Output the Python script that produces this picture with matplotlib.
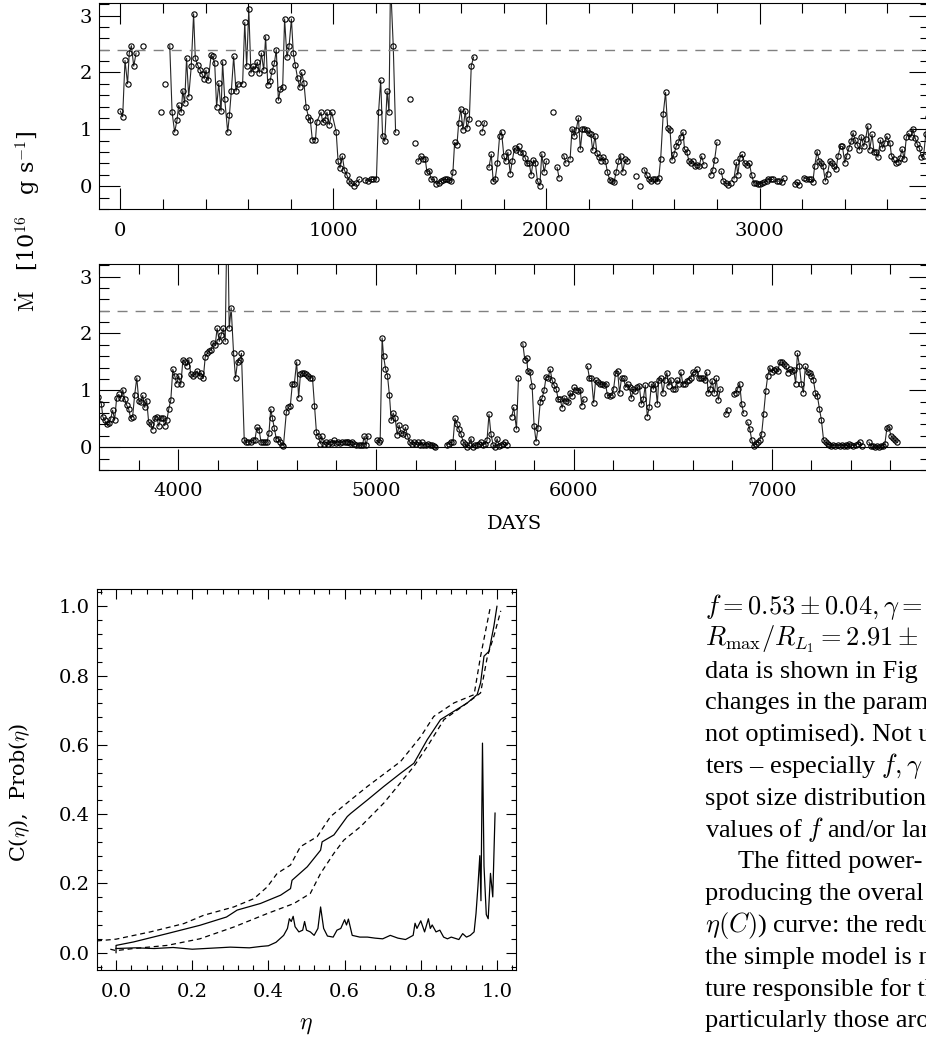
import numpy as np
import matplotlib.pyplot as plt
from matplotlib.ticker import MultipleLocator

plt.rcParams['font.family'] = ['DejaVu Serif']
plt.rcParams['mathtext.fontset'] = 'cm'

N = np.nan  # hueco en la cobertura (corta la linea)

# Curva de luz: dias y tasa de transferencia (1e16 g/s)
dias = [
    0, 11, 22, 34, 42, 52, 63, 74, N,
    105, N, 191, N, 211, N,
    232, 243, 255, 266, 274, 286, 293, 302, 311, 321,
    333, 344, 352, 363, 374, 383, 394, 402, 413, 426,
    433, 443, 452, 462, 473, 480, 490, 504, 512, 521,
    532, 543, 552, 574, 584, 593, 603, 613, 623, 632,
    643, 653, 662, 673, 682, 692, 703, 712, 723, 732,
    742, 751, 762, 771, 782, 792, 803, 812, 821, 832,
    842, 851, 862, 872, 883, 892, 901, 916, 922, 942,
    950, 959, 970, 981, 992, 1013, 1022, 1031, 1042, 1052,
    1063, 1075, 1085, 1096, 1106, 1122, N,
    1150, 1163, 1175, 1185, 1202, 1212, 1222, 1231, 1241, 1252,
    1261, 1268, 1281, 1292, N,
    1361, N, 1381, N,
    1397, 1409, 1420, 1431, 1439, 1450, 1459, 1472, 1483, 1494,
    1503, 1514, 1525, 1534, 1544, 1553, 1561, 1569, 1580, 1588,
    1598, 1608, 1619, 1627, 1638, 1647, 1658, N,
    1678, N, 1698, 1709, N,
    1730, 1741, 1750, 1759, 1770, 1780, 1789, 1800, 1809, 1819,
    1830, 1839, 1850, 1859, 1869, 1878, 1889, 1900, 1909, 1919,
    1928, 1939, 1948, 1958, 1969, 1978, 1989, 2000, N,
    2030, N, 2050, 2059, N, 2081, 2091, N,
    2111, 2120, 2130, 2139, 2150, 2159, 2169, 2178, 2189, 2198,
    2208, 2217, 2228, 2237, 2247, 2256, 2267, 2277, 2286, 2297,
    2306, 2317, 2327, 2338, 2348, 2358, 2369, 2380, N,
    2419, N, 2439, N,
    2459, 2470, 2480, 2489, 2500, 2509, 2517, 2527, 2536, 2548,
    2559, 2569, 2580, 2589, 2598, 2609, 2619, 2630, 2641, 2648,
    2658, 2669, 2678, 2688, 2698, 2708, 2717, 2728, 2739, N,
    2770, 2780, 2789, 2800, N,
    2820, 2830, 2841, 2853, 2864, N,
    2880, 2891, 2898, 2908, 2919, 2930, 2942, 2952, 2963, 2973,
    2983, 2992, 3002, 3013, 3023, 3033, 3041, 3052, 3061, N,
    3080, 3090, N, 3104, 3113, N,
    3166, 3177, 3186, N,
    3208, 3220, 3230, 3241, 3250, 3259, 3270, 3280, 3289, 3298,
    3309, 3319, 3330, 3339, 3348, 3359, 3369, 3380, 3389, 3400,
    3409, 3419, 3430, 3439, 3448, 3459, 3469, 3478, 3489, 3498,
    3508, 3517, 3528, 3537, 3547, 3556, 3567, 3577, 3587, 3597,
    3612, 3619, 3629, 3639, 3649, 3659, 3669, 3679, 3689, 3700,
    3710, 3720, 3730, 3740, 3750, 3760, 3770, 3780, 3791, 3801,
    3811, 3821, 3831, 3841, 3851, 3862, 3872, 3882, 3892, 3902,
    3912, 3922, 3932, 3943, 3953, 3963, 3973, 3983, 3993, 4003,
    4014, 4024, 4034, 4044, 4054, 4064, 4074, 4084, 4096, 4108,
    4116, 4127, 4137, 4147, 4157, 4167, 4177, 4187, 4197, 4208,
    4218, 4228, 4238, 4245, 4252, 4258, 4268, 4280, 4290, 4300,
    4312, 4320, 4334, 4344, 4354, 4366, 4376, 4388, 4398, 4409,
    4419, 4429, 4439, 4449, 4459, 4468, 4476, 4486, 4496, 4506,
    4517, 4527, 4532, 4547, 4557, 4567, 4577, 4587, 4599, 4609,
    4618, 4628, 4638, 4648, 4658, 4668, 4679, 4689, 4699, 4709,
    4719, 4726, 4738, 4748, 4758, 4768, 4778, 4788, 4800, 4810,
    4820, 4830, 4841, 4851, 4861, 4871, 4881, 4891, 4901, 4912,
    4922, 4932, 4940, 4950, 4960, N,
    5003, 5013, 5021, 5031, 5038, 5048, 5058, 5068, 5077, 5087,
    5097, 5107, 5117, 5127, 5137, 5149, 5159, 5170, 5180, 5190,
    5200, 5210, 5220, 5230, 5240, 5251, 5261, 5271, 5281, 5291,
    5300, N,
    5357, 5369, 5379, 5389, 5399, 5409, 5419, 5430, 5440, 5450,
    5460, 5470, 5480, 5490, 5500, 5511, 5521, 5531, 5541, 5551,
    5561, 5571, 5581, 5592, 5602, 5612, 5622, 5632, 5642, 5652,
    5662, N,
    5686, 5696, 5710, 5720, N,
    5742, 5752, 5762, 5767, 5777, 5789, 5799, 5809, 5819, 5830,
    5840, 5850, 5860, 5870, 5880, 5890, 5900, 5911, 5921, 5931,
    5941, 5951, 5961, 5971, 5981, 5992, 6002, 6012, 6022, 6032,
    6040, 6051, N,
    6069, 6079, 6089, 6100, 6110, 6120, 6130, 6140, 6150, 6160,
    6170, 6181, 6191, 6201, 6211, 6221, 6231, 6241, 6251, 6262,
    6272, 6282, 6290, 6300, 6310, 6320, 6331, 6341, 6351, 6361,
    6371, 6381, 6392, 6402, 6412, 6422, 6429, 6440, 6450, 6460,
    6470, 6480, 6490, 6501, 6511, 6521, 6531, 6541, 6551, 6561,
    6571, 6581, 6591, 6602, 6612, 6622, 6632, 6642, 6652, 6662,
    6671, 6679, 6689, 6699, 6710, 6720, 6730, 6740, N,
    6767, 6777, N,
    6808, 6818, 6828, 6838, 6848, 6858, N,
    6878, 6889, 6899, 6909, 6919, 6929, 6939, 6949, 6959, 6970,
    6980, 6990, 7000, 7010, 7020, 7030, 7041, 7051, 7061, 7071,
    7081, 7091, 7101, 7111, 7121, 7130, 7140, 7150, 7160, 7170,
    7181, 7191, 7201, 7211, 7221, 7231, 7241, 7251, 7262, 7272,
    7282, 7292, 7302, 7312, 7322, 7333, 7343, 7353, 7363, 7373,
    7383, 7393, 7403, 7413, 7424, 7434, 7444, 7454, N,
    7491, 7501, 7511, 7522, 7532, 7542, 7552, 7562, 7572, 7582,
    7592, 7603, 7613, 7623, 7633,
]
mdot = [
    1.32, 1.22, 2.21, 1.80, 2.34, 2.47, 2.11, 2.34, N,
    2.46, N, 1.30, N, 1.80, N,
    2.47, 1.30, 0.95, 1.16, 1.42, 1.30, 1.68, 1.46, 2.25, 1.57,
    2.11, 3.03, 2.25, 2.13, 2.05, 1.98, 1.89, 2.04, 1.86, 2.30,
    2.28, 2.16, 1.39, 1.81, 1.32, 2.19, 1.53, 0.95, 1.25, 1.67,
    2.28, 1.67, 1.80, 1.80, 2.88, 2.11, 3.11, 1.99, 2.11, 2.06,
    2.18, 1.99, 2.34, 2.04, 2.63, 1.78, 1.85, 2.02, 2.16, 2.40,
    1.51, 1.70, 1.74, 2.94, 2.27, 2.46, 2.94, 2.34, 2.13, 1.90,
    1.74, 2.00, 1.81, 1.39, 1.22, 1.16, 0.82, 0.82, 1.13, 1.30,
    1.13, 1.16, 1.30, 1.08, 1.30, 0.96, 0.44, 0.32, 0.53, 0.28,
    0.20, 0.09, 0.06, 0.01, 0.06, 0.12, N,
    0.11, 0.09, 0.12, 0.12, 0.13, 1.30, 1.86, 0.88, 0.79, 1.67,
    1.30, 3.60, 2.46, 0.95, N,
    1.53, N, 0.76, N,
    0.44, 0.53, 0.48, 0.48, 0.25, 0.26, 0.12, 0.12, 0.04, 0.06,
    0.09, 0.11, 0.12, 0.12, 0.11, 0.09, 0.25, 0.77, 0.73, 1.11,
    1.36, 0.99, 1.32, 1.02, 1.18, 2.11, 2.27, N,
    1.12, N, 0.96, 1.12, N,
    0.33, 0.56, 0.09, 0.12, 0.41, 0.88, 0.96, 0.53, 0.44, 0.60,
    0.22, 0.44, 0.67, 0.63, 0.70, 0.61, 0.58, 0.50, 0.40, 0.41,
    0.20, 0.46, 0.40, 0.09, 0.01, 0.57, 0.25, 0.44, N,
    1.30, N, 0.33, 0.15, N, 0.54, 0.41, N,
    0.48, 1.01, 0.88, 0.98, 1.20, 0.65, 1.01, 1.01, 0.98, 0.94,
    0.91, 0.63, 0.88, 0.58, 0.51, 0.44, 0.51, 0.44, 0.25, 0.11,
    0.09, 0.07, 0.25, 0.44, 0.54, 0.25, 0.48, 0.44, N,
    0.18, N, 0.01, N,
    0.29, 0.20, 0.12, 0.09, 0.12, 0.13, 0.09, 0.15, 0.48, 1.27,
    1.65, 1.02, 0.99, 0.46, 0.56, 0.70, 0.77, 0.87, 0.95, 0.65,
    0.61, 0.44, 0.40, 0.44, 0.36, 0.38, 0.36, 0.53, 0.38, N,
    0.20, 0.28, 0.46, 0.77, N,
    0.26, 0.09, 0.06, 0.03, 0.06, N,
    0.13, 0.42, 0.20, 0.50, 0.56, 0.40, 0.38, 0.40, 0.20, 0.06,
    0.06, 0.04, 0.04, 0.06, 0.07, 0.09, 0.13, 0.12, 0.12, N,
    0.09, 0.09, N, 0.07, 0.14, N,
    0.04, 0.07, 0.03, N,
    0.15, 0.13, 0.12, 0.12, 0.07, 0.36, 0.61, 0.44, 0.40, 0.35,
    0.09, 0.22, 0.44, 0.40, 0.35, 0.30, 0.54, 0.70, 0.70, 0.41,
    0.53, 0.67, 0.79, 0.94, 0.82, 0.73, 0.64, 0.87, 0.70, 0.83,
    1.06, 0.64, 0.91, 0.61, 0.60, 0.51, 0.81, 0.67, 0.76, 0.88,
    0.76, 0.54, 0.47, 0.41, 0.43, 0.50, 0.65, 0.48, 0.86, 0.93,
    0.86, 1.01, 0.85, 0.74, 0.67, 0.51, 0.54, 0.91, 1.22, 0.82,
    0.79, 0.91, 0.70, 0.82, 0.44, 0.41, 0.31, 0.51, 0.54, 0.37,
    0.51, 0.52, 0.38, 0.48, 0.68, 0.83, 1.37, 1.25, 1.12, 1.25,
    1.11, 1.54, 1.50, 1.43, 1.54, 1.28, 1.25, 1.28, 1.34, 1.25,
    1.31, 1.21, 1.59, 1.65, 1.69, 1.71, 1.84, 1.79, 2.09, 1.86,
    1.98, 2.09, 1.86, 3.60, 3.70, 2.09, 2.45, 1.66, 1.22, 1.50,
    1.54, 1.65, 0.13, 0.09, 0.09, 0.10, 0.12, 0.13, 0.35, 0.31,
    0.09, 0.09, 0.09, 0.09, 0.25, 0.67, 0.52, 0.34, 0.15, 0.15,
    0.09, 0.04, 0.02, 0.62, 0.70, 0.73, 1.11, 1.11, 1.50, 0.87,
    1.28, 1.31, 1.30, 1.28, 1.25, 1.22, 1.22, 0.73, 0.26, 0.19,
    0.06, 0.19, 0.06, 0.09, 0.06, 0.10, 0.08, 0.12, 0.08, 0.10,
    0.08, 0.09, 0.10, 0.09, 0.10, 0.08, 0.10, 0.06, 0.04, 0.04,
    0.04, 0.04, 0.19, 0.04, 0.19, N,
    0.12, 0.10, 0.12, 1.92, 1.61, 1.38, 1.26, 0.91, 0.47, 0.60,
    0.51, 0.22, 0.39, 0.25, 0.23, 0.35, 0.20, 0.09, 0.06, 0.09,
    0.06, 0.09, 0.04, 0.09, 0.04, 0.04, 0.06, 0.04, 0.04, 0.03,
    0.00, N,
    0.04, 0.06, 0.09, 0.09, 0.51, 0.41, 0.32, 0.23, 0.10, 0.06,
    0.00, 0.04, 0.15, 0.00, 0.04, 0.04, 0.06, 0.09, 0.04, 0.06,
    0.12, 0.58, 0.23, 0.04, 0.00, 0.15, 0.03, 0.04, 0.06, 0.09,
    0.04, N,
    0.54, 0.70, 0.32, 1.21, N,
    1.82, 1.54, 1.57, 1.34, 1.32, 1.08, 0.38, 0.10, 0.34, 0.79,
    0.87, 1.01, 1.24, 1.22, 1.37, 1.18, 1.09, 1.02, 0.84, 0.84,
    0.69, 0.87, 0.82, 0.79, 0.96, 0.90, 1.05, 1.01, 0.99, 1.01,
    0.73, 0.84, N,
    1.42, 1.21, 1.21, 0.78, 1.18, 1.14, 1.12, 1.11, 1.09, 1.11,
    0.91, 0.90, 0.91, 1.03, 1.31, 1.34, 0.95, 1.22, 1.21, 1.05,
    1.11, 1.05, 0.86, 1.02, 0.99, 1.05, 1.07, 0.76, 0.84, 1.09,
    0.54, 0.70, 1.11, 1.02, 1.12, 0.76, 1.19, 1.21, 0.95, 1.18,
    1.31, 1.08, 1.19, 1.03, 1.02, 1.18, 1.12, 1.32, 1.11, 1.12,
    1.17, 1.19, 1.22, 1.32, 1.31, 1.37, 1.21, 1.22, 1.21, 1.19,
    1.32, 0.95, 1.03, 1.17, 0.95, 1.21, 0.83, 1.02, N,
    0.58, 0.66, N,
    0.94, 0.96, 1.03, 1.12, 0.76, 0.60, N,
    0.44, 0.32, 0.13, 0.02, 0.06, 0.10, 0.12, 0.23, 0.58, 0.99,
    1.26, 1.40, 1.32, 1.36, 1.38, 1.34, 1.49, 1.50, 1.47, 1.42,
    1.31, 1.37, 1.34, 1.36, 1.12, 1.65, 1.43, 1.11, 0.96, 1.42,
    1.32, 1.31, 1.26, 1.18, 0.95, 0.90, 0.68, 0.48, 0.13, 0.09,
    0.06, 0.04, 0.03, 0.04, 0.03, 0.04, 0.03, 0.04, 0.03, 0.04,
    0.03, 0.05, 0.04, 0.03, 0.04, 0.06, 0.09, 0.03, N,
    0.09, 0.03, 0.02, 0.00, 0.02, 0.00, 0.02, 0.03, 0.06, 0.33,
    0.35, 0.20, 0.16, 0.12, 0.09,
]
mdot_crit = 2.4

# C(eta) con sus limites y Prob(eta)
eta_c = [0.0, 0.0, 0.046, 0.134, 0.22, 0.29, 0.318, 0.379, 0.432, 0.458,
         0.462, 0.502, 0.537, 0.541, 0.572, 0.607, 0.616, 0.66, 0.703, 0.747,
         0.782, 0.817, 0.852, 0.887, 0.922, 0.948, 0.957, 0.966, 0.979, 0.992,
         1.0]
c_med = [0.0, 0.021, 0.031, 0.055, 0.079, 0.103, 0.123, 0.142, 0.166, 0.185,
         0.209, 0.248, 0.296, 0.320, 0.340, 0.393, 0.402, 0.441, 0.480, 0.518,
         0.547, 0.615, 0.673, 0.697, 0.721, 0.745, 0.779, 0.856, 0.870, 0.943,
         1.0]
eta_sup = [-0.05, 0.0, 0.09, 0.178, 0.23, 0.309, 0.362, 0.397, 0.423, 0.458,
           0.484, 0.528, 0.563, 0.616, 0.66, 0.747, 0.80, 0.834, 0.887, 0.94,
           0.957, 0.983]
c_sup = [0.034, 0.039, 0.060, 0.084, 0.108, 0.132, 0.156, 0.190, 0.229, 0.253,
         0.306, 0.335, 0.393, 0.441, 0.480, 0.552, 0.624, 0.682, 0.721, 0.745,
         0.856, 1.0]
eta_inf = [-0.015, 0.0, 0.046, 0.134, 0.22, 0.309, 0.397, 0.467, 0.51, 0.537,
           0.572, 0.598, 0.642, 0.703, 0.782, 0.817, 0.861, 0.922, 0.957, 0.975,
           0.992, 1.01]
c_inf = [0.010, 0.006, 0.012, 0.021, 0.040, 0.074, 0.113, 0.142, 0.171, 0.229,
         0.287, 0.325, 0.364, 0.432, 0.538, 0.595, 0.673, 0.721, 0.750, 0.856,
         0.914, 0.987]
eta_p = [0.0, 0.05, 0.10, 0.15, 0.20, 0.25, 0.30, 0.35, 0.38, 0.40,
         0.42, 0.44, 0.45, 0.455, 0.46, 0.465, 0.47, 0.48, 0.49, 0.495,
         0.50, 0.51, 0.52, 0.53, 0.537, 0.545, 0.555, 0.57, 0.58, 0.59,
         0.60, 0.605, 0.61, 0.62, 0.64, 0.66, 0.68, 0.70, 0.72, 0.74,
         0.76, 0.78, 0.785, 0.79, 0.80, 0.81, 0.82, 0.825, 0.83, 0.84,
         0.85, 0.86, 0.87, 0.88, 0.90, 0.91, 0.92, 0.93, 0.94, 0.945,
         0.95, 0.955, 0.958, 0.962, 0.966, 0.972, 0.977, 0.983, 0.989, 0.995]
prob = [0.012, 0.014, 0.012, 0.015, 0.010, 0.013, 0.016, 0.014, 0.018, 0.020,
        0.030, 0.050, 0.070, 0.098, 0.090, 0.105, 0.075, 0.060, 0.065, 0.090,
        0.065, 0.060, 0.050, 0.070, 0.132, 0.070, 0.048, 0.045, 0.065, 0.070,
        0.095, 0.080, 0.097, 0.050, 0.045, 0.045, 0.042, 0.040, 0.050, 0.042,
        0.038, 0.050, 0.085, 0.070, 0.092, 0.060, 0.098, 0.070, 0.080, 0.060,
        0.065, 0.045, 0.040, 0.045, 0.038, 0.055, 0.045, 0.050, 0.060, 0.113,
        0.190, 0.280, 0.150, 0.605, 0.250, 0.110, 0.098, 0.229, 0.161, 0.403]

# texto del articulo a la derecha (cortado por el borde, como en la pagina)
lineas = [
    r'$f = 0.53 \pm 0.04, \gamma =$',
    r'$R_{\rm max}/R_{L_1} = 2.91\pm$',
    'data is shown in Fig',
    'changes in the param',
    'not optimised). Not u',
    r'ters – especially $f, \gamma$',
    'spot size distributions',
    r'values of $f$ and/or lar',
    'The fitted power-',
    'producing the overal',
    r'$\eta(C)$) curve: the redu',
    'the simple model is m',
    'ture responsible for th',
    'particularly those aro',
]

W, H = 926, 1040
fig = plt.figure(figsize=(W / 100, H / 100), dpi=100)

ax1 = fig.add_axes([99 / W, 1 - 209 / H, 831 / W, 206 / H])
ax2 = fig.add_axes([99 / W, 1 - 470 / H, 831 / W, 206 / H])

for ax, lims in ((ax1, (-100, 3800)), (ax2, (3600, 7800))):
    ax.plot(dias, mdot, color='0.15', lw=0.8, marker='o', ms=3.8,
            mfc='none', mec='black', mew=0.8)
    ax.axhline(mdot_crit, color='0.5', lw=1.0, dashes=(7.2, 5.8))
    ax.set_xlim(*lims)
    ax.set_ylim(-0.4, 3.22)
    ax.xaxis.set_major_locator(MultipleLocator(1000))
    ax.xaxis.set_minor_locator(MultipleLocator(200))
    ax.yaxis.set_major_locator(MultipleLocator(1))
    ax.yaxis.set_minor_locator(MultipleLocator(0.2))
    ax.tick_params(which='both', direction='in', top=True, right=True,
                   width=0.8, labelsize=14)
    ax.tick_params(which='major', length=15)
    ax.tick_params(which='minor', length=7.5)
    ax.tick_params(axis='x', pad=9)
    ax.tick_params(axis='y', pad=5)
    for s in ax.spines.values():
        s.set_linewidth(0.8)

ax2.axhline(0, color='black', lw=0.8)

fig.text(28 / W, 1 - 221 / H, r'$\dot{\rm M}$   [10$^{16}$   g s$^{-1}$]',
         rotation=90, ha='center', va='center', fontsize=16)
fig.text(514 / W, 1 - 524 / H, 'DAYS', ha='center', va='center', fontsize=14)

# panel inferior izquierdo
ax3 = fig.add_axes([97 / W, 1 - 970 / H, 419 / W, 381 / H])
ax3.plot(eta_c, c_med, color='black', lw=0.9)
ax3.plot(eta_sup, c_sup, color='black', lw=0.9, dashes=(4, 3))
ax3.plot(eta_inf, c_inf, color='black', lw=0.9, dashes=(4, 3))
ax3.plot(eta_p, prob, color='black', lw=0.9)
ax3.set_xlim(-0.05, 1.05)
ax3.set_ylim(-0.05, 1.05)
ax3.xaxis.set_major_locator(MultipleLocator(0.2))
ax3.xaxis.set_minor_locator(MultipleLocator(0.04))
ax3.yaxis.set_major_locator(MultipleLocator(0.2))
ax3.yaxis.set_minor_locator(MultipleLocator(0.04))
ax3.xaxis.set_major_formatter(lambda v, p: f'{v:.1f}')
ax3.yaxis.set_major_formatter(lambda v, p: f'{v:.1f}')
ax3.tick_params(which='both', direction='in', top=True, right=True,
                width=0.8, labelsize=14)
ax3.tick_params(which='major', length=7)
ax3.tick_params(which='minor', length=3.6)
ax3.tick_params(axis='x', pad=9.5)
ax3.tick_params(axis='y', pad=5)
for s in ax3.spines.values():
    s.set_linewidth(0.8)

fig.text(20 / W, 1 - 792 / H, r'C($\eta$),  Prob($\eta$)', rotation=90,
         ha='center', va='center', fontsize=15)
fig.text(306 / W, 1 - 1025 / H, r'$\eta$', ha='center', va='center', fontsize=17)

for i, linea in enumerate(lineas):
    x0 = 738 if i == 8 else 705
    fig.text(x0 / W, 1 - (614 + 31.8 * i) / H, linea, ha='left', va='baseline',
             fontsize=19, family='Liberation Serif')

fig.savefig('out.png', dpi=100)
